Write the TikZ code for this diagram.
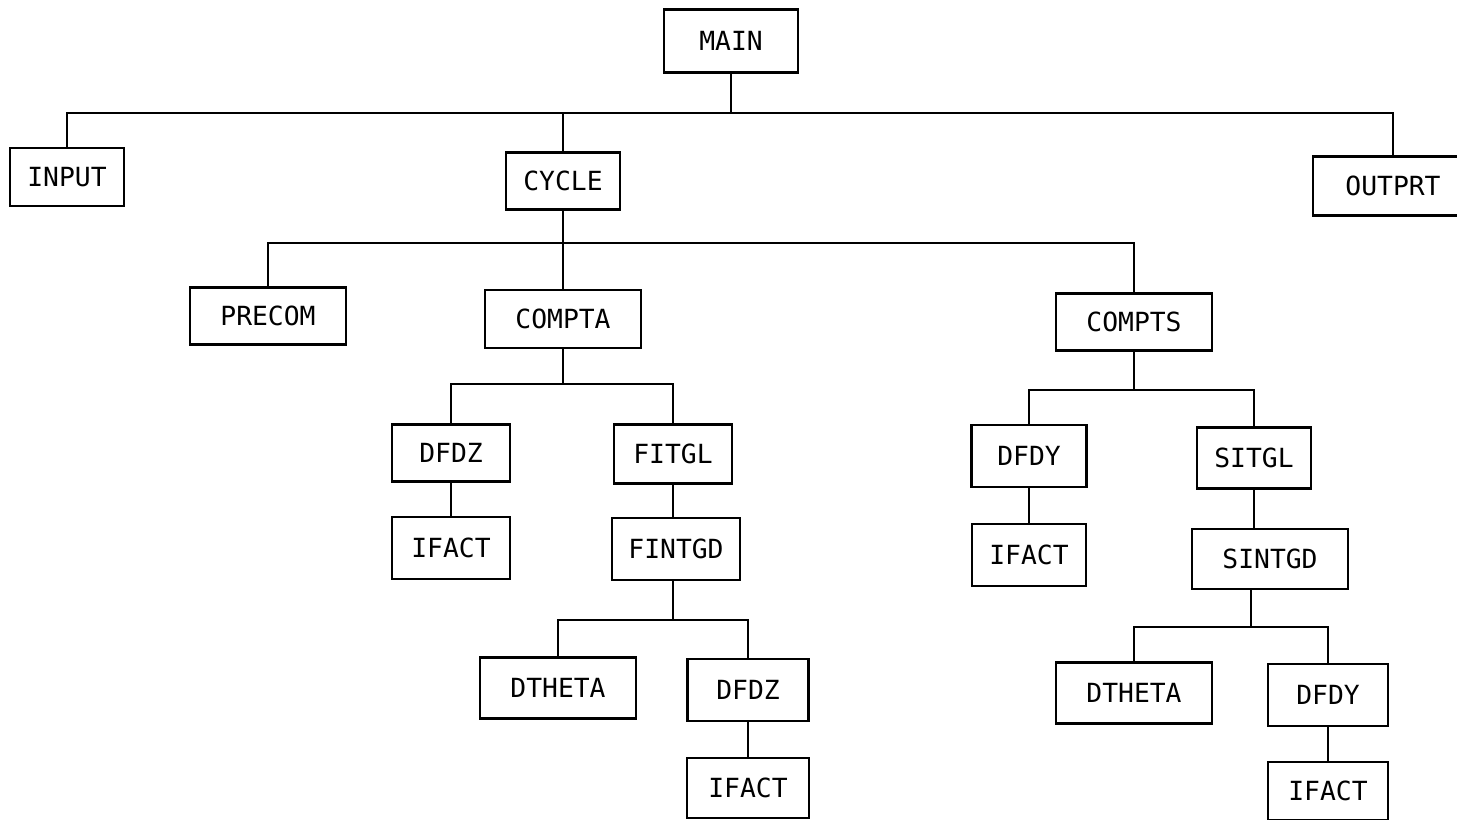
\documentclass[tikz,border=0pt]{standalone}
\usepackage{fontspec}
\newfontfamily\chartfont{DejaVu Sans Mono}

\begin{document}
\begin{tikzpicture}[x={(0.02cm,0)}, y={(0,-0.02cm)}]
    % --- STYLES ---
    \tikzset{
        routineBox/.style={draw, line width=1.4pt, minimum width=2.36cm, minimum height=1.2cm, inner sep=0pt, font=\chartfont\fontsize{15}{18}\selectfont},
        wideBox/.style={routineBox, minimum width=3.12cm},
        callLine/.style={line width=1.4pt}
    }

    % page size, the OUTPRT box runs off the right edge
    \clip (0,0) rectangle (1457,820);

    % --- NODES ---

    % Level 0 and 1
    \node[routineBox, minimum width=2.68cm, minimum height=1.26cm] (main) at (731,41) {MAIN};
    \node[routineBox, minimum width=2.28cm, minimum height=1.16cm] (input) at (67,177) {INPUT};
    \node[routineBox, minimum width=2.28cm, minimum height=1.14cm] (cycle) at (563,181) {CYCLE};
    \node[routineBox, minimum width=3.2cm, minimum height=1.18cm] (outprt) at (1393,186) {OUTPRT};

    % Level 2
    \node[wideBox, minimum height=1.14cm] (precom) at (268,316) {PRECOM};
    \node[wideBox, minimum height=1.16cm] (compta) at (563,319) {COMPTA};
    \node[wideBox, minimum height=1.14cm] (compts) at (1134,322) {COMPTS};

    % Under COMPTA
    \node[routineBox, minimum height=1.14cm] (dfdzA) at (451,453) {DFDZ};
    \node[routineBox, minimum height=1.18cm] (fitgl) at (673,454) {FITGL};
    \node[routineBox, minimum height=1.24cm] (ifactA) at (451,548) {IFACT};
    \node[routineBox, minimum width=2.56cm, minimum height=1.24cm] (fintgd) at (676,549) {FINTGD};
    \node[wideBox, minimum height=1.22cm] (dthetaA) at (558,688) {DTHETA};
    \node[routineBox, minimum width=2.42cm, minimum height=1.24cm] (dfdzB) at (748,690) {DFDZ};
    \node[routineBox, minimum width=2.44cm, minimum height=1.2cm] (ifactB) at (748,788) {IFACT};

    % Under COMPTS
    \node[routineBox, minimum width=2.3cm, minimum height=1.24cm] (dfdyA) at (1029,456) {DFDY};
    \node[routineBox, minimum width=2.28cm, minimum height=1.22cm] (sitgl) at (1254,458) {SITGL};
    \node[routineBox, minimum width=2.28cm, minimum height=1.24cm] (ifactC) at (1029,555) {IFACT};
    \node[wideBox, minimum height=1.2cm] (sintgd) at (1270,559) {SINTGD};
    \node[wideBox, minimum height=1.22cm] (dthetaB) at (1134,693) {DTHETA};
    \node[routineBox, minimum width=2.4cm, minimum height=1.24cm] (dfdyB) at (1328,695) {DFDY};
    \node[routineBox, minimum width=2.4cm, minimum height=1.16cm] (ifactD) at (1328,791) {IFACT};

    % --- BUS POINTS ---
    \coordinate (busMain) at (731,113);
    \coordinate (busCycle) at (563,243);
    \coordinate (busCompta) at (563,384);
    \coordinate (busFintgd) at (673,620);
    \coordinate (busCompts) at (1134,390);
    \coordinate (busSintgd) at (1251,627);

    % --- CONNECTORS ---
    \draw[callLine] (main) -- (busMain);
    \draw[callLine] (input) |- (busMain) -| (outprt);
    \draw[callLine] (busMain -| cycle) -- (cycle);

    \draw[callLine] (cycle) -- (busCycle);
    \draw[callLine] (precom) |- (busCycle) -| (compts);
    \draw[callLine] (busCycle) -- (compta);

    \draw[callLine] (compta) -- (busCompta);
    \draw[callLine] (dfdzA) |- (busCompta) -| (fitgl);
    \draw[callLine] (dfdzA) -- (ifactA);
    \draw[callLine] (fitgl.south) -- (fitgl.south |- fintgd.north);
    \draw[callLine] (busFintgd |- fintgd.south) -- (busFintgd);
    \draw[callLine] (dthetaA) |- (busFintgd) -| (dfdzB);
    \draw[callLine] (dfdzB) -- (ifactB);

    \draw[callLine] (compts) -- (busCompts);
    \draw[callLine] (dfdyA) |- (busCompts) -| (sitgl);
    \draw[callLine] (dfdyA) -- (ifactC);
    \draw[callLine] (sitgl.south) -- (sitgl.south |- sintgd.north);
    \draw[callLine] (busSintgd |- sintgd.south) -- (busSintgd);
    \draw[callLine] (dthetaB) |- (busSintgd) -| (dfdyB);
    \draw[callLine] (dfdyB) -- (ifactD);

\end{tikzpicture}
\end{document}
